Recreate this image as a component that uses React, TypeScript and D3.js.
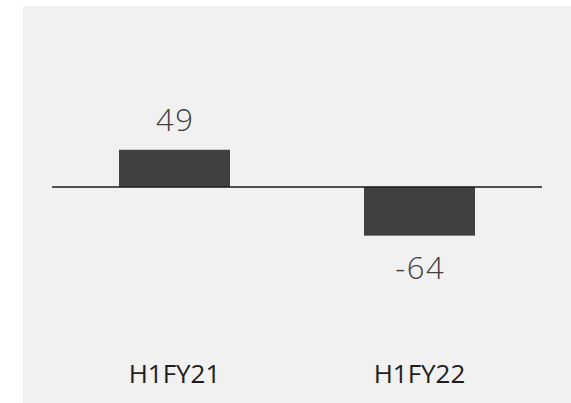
import React from "react";
import * as d3 from "d3";

const categories: string[] = ["H1FY21", "H1FY22"];
const values: number[] = [49, -64];
const valueLabels: string[] = ["49", "-64"];

const W = 571;
const H = 403;

export default function App() {
  const x = d3
    .scaleBand<string>()
    .domain(categories)
    .range([52, 542])
    .paddingInner(0.547)
    .paddingOuter(0.2735);
  const y = d3.scaleLinear().domain([-150, 150]).range([187 + 114, 187 - 114]);
  const font = "'Open Sans', 'DejaVu Sans', sans-serif";

  return (
    <svg
      width={W}
      height={H}
      style={{ position: "absolute", left: 0, top: 0, display: "block" }}
    >
      <rect x={0} y={0} width={W} height={H} fill="#ffffff" />
      <rect x={23} y={6} width={W - 23} height={H - 6} fill="#f1f1f1" />
      {categories.map((c, i) => {
        const v = values[i];
        const x0 = x(c) as number;
        const bw = x.bandwidth();
        const top = Math.min(y(v), y(0));
        const h = Math.abs(y(v) - y(0));
        const cx = x0 + bw / 2;
        return (
          <g key={c}>
            <rect x={x0} y={top} width={bw} height={h} fill="#404040" />
            <text
              x={cx + 0.75}
              y={v >= 0 ? y(v) - 19 : y(v) + 43}
              textAnchor="middle"
              fontFamily={font}
              fontWeight={300}
              fontSize={31}
              letterSpacing={1.5}
              fill="#404040"
            >
              {valueLabels[i]}
            </text>
            <text
              x={cx}
              y={383}
              textAnchor="middle"
              fontFamily={font}
              fontWeight={400}
              fontSize={26}
              fill="#1e1e1e"
            >
              {c}
            </text>
          </g>
        );
      })}
      <line
        x1={52}
        x2={542}
        y1={y(0)}
        y2={y(0)}
        stroke="#1a1a1a"
        strokeWidth={1.5}
      />
    </svg>
  );
}
